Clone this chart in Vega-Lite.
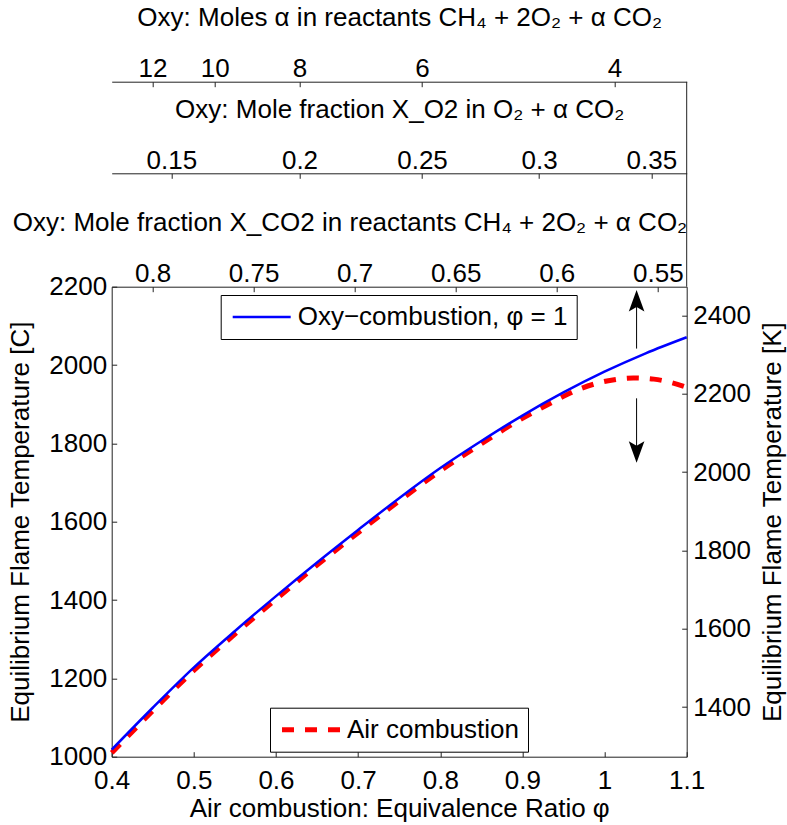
{
  "$schema": "https://vega.github.io/schema/vega-lite/v6.json",
  "width": 575,
  "height": 470,
  "autosize": {"type": "none"},
  "padding": {"left": 111.7, "top": 286.7, "right": 100.3, "bottom": 68.3},
  "background": "white",
  "config": {
    "view": {"stroke": null},
    "font": "Liberation Sans",
    "axis": {
      "labelFont": "Liberation Sans",
      "titleFont": "Liberation Sans",
      "labelFontSize": 26,
      "titleFontSize": 26,
      "titleFontWeight": "normal",
      "labelColor": "black",
      "titleColor": "black",
      "domainColor": "#222222",
      "tickColor": "#222222",
      "domainWidth": 1,
      "tickWidth": 1,
      "tickSize": -5,
      "grid": false,
      "labelFlush": false,
      "labelOverlap": false,
      "labelBound": false
    },
    "legend": {
      "labelFont": "Liberation Sans",
      "labelFontSize": 26,
      "labelColor": "black",
      "labelLimit": 0
    }
  },
  "datasets": {
    "air": [
      {"phi": 0.40, "T": 1010},
      {"phi": 0.45, "T": 1117},
      {"phi": 0.50, "T": 1220},
      {"phi": 0.55, "T": 1313},
      {"phi": 0.60, "T": 1402},
      {"phi": 0.65, "T": 1489},
      {"phi": 0.70, "T": 1572},
      {"phi": 0.75, "T": 1653},
      {"phi": 0.80, "T": 1730},
      {"phi": 0.85, "T": 1799},
      {"phi": 0.90, "T": 1864},
      {"phi": 0.93, "T": 1898},
      {"phi": 0.95, "T": 1920},
      {"phi": 0.97, "T": 1939},
      {"phi": 0.99, "T": 1953},
      {"phi": 1.01, "T": 1962},
      {"phi": 1.035, "T": 1967},
      {"phi": 1.06, "T": 1964},
      {"phi": 1.08, "T": 1956},
      {"phi": 1.10, "T": 1943}
    ],
    "oxy": [
      {"xco2": 0.8202, "T": 1018},
      {"xco2": 0.7999, "T": 1125},
      {"xco2": 0.7795, "T": 1228},
      {"xco2": 0.7592, "T": 1321},
      {"xco2": 0.7389, "T": 1410},
      {"xco2": 0.7186, "T": 1496},
      {"xco2": 0.6983, "T": 1579},
      {"xco2": 0.6780, "T": 1660},
      {"xco2": 0.6576, "T": 1737},
      {"xco2": 0.6373, "T": 1806},
      {"xco2": 0.6170, "T": 1871},
      {"xco2": 0.5967, "T": 1930},
      {"xco2": 0.5764, "T": 1983},
      {"xco2": 0.5560, "T": 2030},
      {"xco2": 0.5357, "T": 2071}
    ],
    "shafts": [
      {"phi": 1.039, "T": 2042, "T2": 2180},
      {"phi": 1.039, "T": 1915, "T2": 1762}
    ],
    "heads": [
      {"phi": 1.039, "T": 2191.5, "dir": "up"},
      {"phi": 1.039, "T": 1750.6, "dir": "down"}
    ],
    "edge": [
      {"phi": 1.1, "T": 2200, "T2": 2723}
    ],
    "kaxis": [
      {"K": 1273.15},
      {"K": 2473.15}
    ]
  },
  "layer": [
    {
      "data": {"name": "air"},
      "mark": {"type": "line", "strokeWidth": 5, "strokeDash": [12, 11], "interpolate": "monotone"},
      "encoding": {
        "x": {
          "field": "phi", "type": "quantitative",
          "scale": {"domain": [0.4, 1.1]},
          "axis": {
            "orient": "bottom",
            "values": [0.4, 0.5, 0.6, 0.7, 0.8, 0.9, 1, 1.1],
            "format": ".1~f",
            "title": "Air combustion: Equivalence Ratio φ",
            "labelPadding": 16,
            "titlePadding": 2
          }
        },
        "y": {
          "field": "T", "type": "quantitative",
          "scale": {"domain": [1000, 2200]},
          "axis": {
            "orient": "left",
            "values": [1000, 1200, 1400, 1600, 1800, 2000, 2200],
            "format": "d",
            "title": "Equilibrium Flame Temperature [C]",
            "labelPadding": 10,
            "titlePadding": 15
          }
        },
        "color": {
          "datum": "Air combustion",
          "scale": {"range": ["#ff0000"]},
          "legend": {
            "orient": "none", "legendX": 158.3, "legendY": 421,
            "title": null,
            "symbolType": "M-1,0H4.8", "symbolSize": 400, "symbolStrokeWidth": 5,
            "symbolDash": [12, 11],
            "padding": 9, "labelOffset": 42,
            "strokeColor": "black", "fillColor": "white"
          }
        }
      }
    },
    {
      "data": {"name": "oxy"},
      "mark": {"type": "line", "strokeWidth": 2.5, "interpolate": "monotone"},
      "encoding": {
        "x": {
          "field": "xco2", "type": "quantitative",
          "scale": {"domain": [0.5357, 0.8202], "reverse": true},
          "axis": {
            "orient": "top",
            "values": [0.8, 0.75, 0.7, 0.65, 0.6, 0.55],
            "format": ".2~f",
            "title": "Oxy: Mole fraction X_CO2 in reactants CH₄ + 2O₂ + α CO₂",
            "titleAnchor": "start",
            "titleAlign": "right",
            "labelPadding": 5,
            "titlePadding": 25
          }
        },
        "y": {"field": "T", "type": "quantitative", "scale": {"domain": [1000, 2200]}, "axis": null},
        "color": {
          "datum": "Oxy−combustion, φ = 1",
          "scale": {"range": ["#0000ff"]},
          "legend": {
            "orient": "none", "legendX": 109, "legendY": 8.3,
            "title": null,
            "symbolType": "M-1,0H4.8", "symbolSize": 400, "symbolStrokeWidth": 2.5,
            "padding": 9, "labelOffset": 42,
            "strokeColor": "black", "fillColor": "white"
          }
        }
      }
    },
    {
      "data": {"name": "oxy"},
      "mark": {"type": "line", "strokeOpacity": 0},
      "encoding": {
        "x": {
          "field": "xco2", "type": "quantitative",
          "scale": {"domain": [0.5357, 0.8202], "reverse": true},
          "axis": {
            "orient": "top",
            "offset": 113.4,
            "values": [0.790698, 0.727273, 0.666667, 0.608696, 0.553191],
            "labelExpr": "format(2*(1-datum.value)/(2+datum.value), '.2~f')",
            "title": "Oxy: Mole fraction X_O2 in O₂ + α CO₂",
            "labelPadding": 5,
            "titlePadding": 25
          }
        },
        "y": {"field": "T", "type": "quantitative", "scale": {"domain": [1000, 2200]}, "axis": null}
      }
    },
    {
      "data": {"name": "oxy"},
      "mark": {"type": "line", "strokeOpacity": 0},
      "encoding": {
        "x": {
          "field": "xco2", "type": "quantitative",
          "scale": {"domain": [0.5357, 0.8202], "reverse": true},
          "axis": {
            "orient": "top",
            "offset": 205,
            "values": [0.8, 0.769231, 0.727273, 0.666667, 0.571429],
            "labelExpr": "format(3*datum.value/(1-datum.value), '.0f')",
            "title": "Oxy: Moles α in reactants CH₄ + 2O₂ + α CO₂",
            "labelPadding": 5,
            "titlePadding": 25
          }
        },
        "y": {"field": "T", "type": "quantitative", "scale": {"domain": [1000, 2200]}, "axis": null}
      }
    },
    {
      "data": {"name": "kaxis"},
      "mark": {"type": "point", "opacity": 0},
      "encoding": {
        "y": {
          "field": "K", "type": "quantitative",
          "scale": {"domain": [1273.15, 2473.15]},
          "axis": {
            "orient": "right",
            "values": [1400, 1600, 1800, 2000, 2200, 2400],
            "format": "d",
            "title": "Equilibrium Flame Temperature [K]",
            "titleAngle": 270,
            "titleBaseline": "top",
            "labelPadding": 11,
            "titlePadding": 9
          }
        }
      }
    },
    {
      "data": {"name": "shafts"},
      "mark": {"type": "rule", "color": "black", "strokeWidth": 1},
      "encoding": {
        "x": {"field": "phi", "type": "quantitative", "scale": {"domain": [0.4, 1.1]}, "axis": null},
        "y": {"field": "T", "type": "quantitative", "scale": {"domain": [1000, 2200]}, "axis": null},
        "y2": {"field": "T2"}
      }
    },
    {
      "data": {"name": "heads"},
      "mark": {"type": "point", "filled": true, "color": "black", "strokeWidth": 0, "opacity": 1, "size": 484},
      "encoding": {
        "x": {"field": "phi", "type": "quantitative", "scale": {"domain": [0.4, 1.1]}, "axis": null},
        "y": {"field": "T", "type": "quantitative", "scale": {"domain": [1000, 2200]}, "axis": null},
        "shape": {
          "field": "dir", "type": "nominal",
          "scale": {"domain": ["up", "down"], "range": ["M0,0L0.71,1.95L0,1.55L-0.71,1.95Z", "M0,0L0.71,-1.95L0,-1.55L-0.71,-1.95Z"]},
          "legend": null
        }
      }
    },
    {
      "data": {"name": "edge"},
      "mark": {"type": "rule", "color": "#222222", "strokeWidth": 1},
      "encoding": {
        "x": {"field": "phi", "type": "quantitative", "scale": {"domain": [0.4, 1.1]}, "axis": null},
        "y": {"field": "T", "type": "quantitative", "scale": {"domain": [1000, 2200]}, "axis": null},
        "y2": {"field": "T2"}
      }
    }
  ],
  "resolve": {
    "scale": {"x": "independent", "y": "independent", "color": "independent", "shape": "independent"},
    "legend": {"color": "independent"}
  }
}
